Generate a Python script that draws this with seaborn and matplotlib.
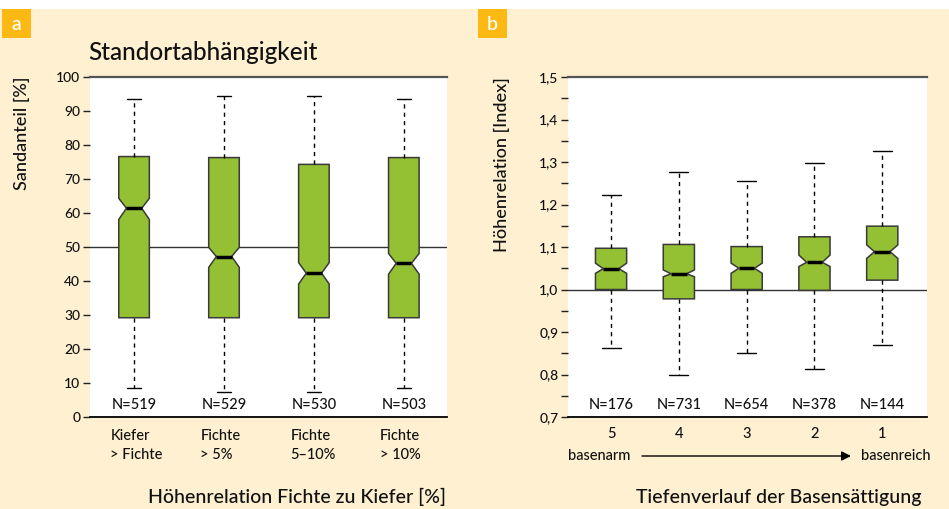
import matplotlib
matplotlib.use("Agg")
import matplotlib.pyplot as plt
from matplotlib.patches import Rectangle
from matplotlib.transforms import blended_transform_factory
import seaborn as sns

# %%
# Panel a: Sandanteil nach Höhenrelation Fichte zu Kiefer
a_labels = ["Kiefer\n> Fichte", "Fichte\n> 5%", "Fichte\n5\u201310%", "Fichte\n> 10%"]
a_n = [519, 529, 530, 503]
a_hi = [93.4, 94.4, 94.4, 93.4]
a_q3 = [76.6, 76.3, 74.3, 76.3]
a_med = [61.4, 47.2, 42.3, 45.2]
a_q1 = [29.2, 29.2, 29.2, 29.2]
a_lo = [8.4, 7.3, 7.3, 8.4]
a_cihi = [64.3, 49.9, 45.4, 48.1]
a_cilo = [58.1, 44.0, 39.1, 42.0]
a_yticks = [0, 10, 20, 30, 40, 50, 60, 70, 80, 90, 100]
a_yticklabels = ["0", "10", "20", "30", "40", "50", "60", "70", "80", "90", "100"]

# Panel b: Höhenrelation nach Basensättigung
b_labels = ["5", "4", "3", "2", "1"]
b_n = [176, 731, 654, 378, 144]
b_hi = [1.222, 1.277, 1.256, 1.297, 1.327]
b_q3 = [1.097, 1.106, 1.101, 1.124, 1.149]
b_med = [1.049, 1.037, 1.050, 1.064, 1.089]
b_q1 = [1.000, 0.978, 1.000, 0.998, 1.022]
b_lo = [0.862, 0.800, 0.851, 0.812, 0.869]
b_cihi = [1.062, 1.046, 1.062, 1.081, 1.105]
b_cilo = [1.038, 1.030, 1.038, 1.054, 1.073]
b_yticks = [0.7, 0.8, 0.9, 1.0, 1.1, 1.2, 1.3, 1.4, 1.5]
b_yticklabels = ["0,7", "0,8", "0,9", "1,0", "1,1", "1,2", "1,3", "1,4", "1,5"]
b_yminor = [0.75, 0.85, 0.95, 1.05, 1.15, 1.25, 1.35, 1.45]

# %%
CREAM = "#FEF0D0"
ORANGE = "#FDB913"
GREEN = "#94C133"
EDGE = "#3a3a3a"

sns.set_theme(style="ticks")
plt.rcParams["font.family"] = ["Lato", "DejaVu Sans"]
plt.rcParams["font.weight"] = "medium"
plt.rcParams["text.color"] = "#111111"

fig = plt.figure(figsize=(9.49, 5.09), dpi=100, facecolor=CREAM)
# white strip on top
fig.patches.append(Rectangle((0, 1 - 9 / 509), 1, 9 / 509, transform=fig.transFigure,
                             facecolor="white", edgecolor="none", zorder=0))

ax_a = fig.add_axes([90 / 949, 92 / 509, 357 / 949, 340 / 509])
ax_b = fig.add_axes([568 / 949, 92 / 509, 359 / 949, 340 / 509])


def make_stats(lo, q1, med, q3, hi, cilo, cihi):
    return [dict(whislo=l, q1=a, med=m, q3=b, whishi=h, cilo=c1, cihi=c2, fliers=[])
            for l, a, m, b, h, c1, c2 in zip(lo, q1, med, q3, hi, cilo, cihi)]


def draw_boxes(ax, stats, width, capw):
    ax.bxp(stats, positions=list(range(len(stats))), widths=width, patch_artist=True,
           shownotches=True, showfliers=False, capwidths=capw,
           boxprops=dict(facecolor=GREEN, edgecolor=EDGE, linewidth=1.1),
           whiskerprops=dict(color="black", linewidth=1, linestyle=(0, (3, 3))),
           capprops=dict(color="black", linewidth=1),
           medianprops=dict(color="black", linewidth=2.5, solid_capstyle="butt"),
           manage_ticks=False, zorder=2)


def style_axes(ax):
    ax.set_facecolor("white")
    for s in ["left", "right"]:
        ax.spines[s].set_visible(False)
    ax.spines["top"].set_color("#555555")
    ax.spines["top"].set_linewidth(1.6)
    ax.spines["bottom"].set_color("black")
    ax.spines["bottom"].set_linewidth(1.3)
    ax.tick_params(axis="y", which="both", length=5, width=1, color="#222222",
                   pad=2, labelsize=10, labelcolor="#111111")
    ax.tick_params(axis="x", length=0)


# ---- panel a
style_axes(ax_a)
draw_boxes(ax_a, make_stats(a_lo, a_q1, a_med, a_q3, a_hi, a_cilo, a_cihi), 0.34, 0.16)
ax_a.axhline(50, color="#333333", linewidth=1, zorder=1)
ax_a.set_xlim(-0.49, 3.48)
ax_a.set_ylim(0, 100)
ax_a.set_yticks(a_yticks, a_yticklabels)
ax_a.set_xticks([])
tr_a = blended_transform_factory(ax_a.transData, ax_a.transAxes)
for i, (lab, n) in enumerate(zip(a_labels, a_n)):
    ax_a.text(i, 0.034, f"N={n}", transform=tr_a, ha="center", va="center", fontsize=10.5)
    ax_a.annotate(lab, xy=(i, 0), xycoords=tr_a, xytext=(-17, -9),
                  textcoords="offset points", ha="left", va="top", fontsize=10.5,
                  linespacing=1.45, annotation_clip=False)

# ---- panel b
style_axes(ax_b)
draw_boxes(ax_b, make_stats(b_lo, b_q1, b_med, b_q3, b_hi, b_cilo, b_cihi), 0.46, 0.28)
ax_b.axhline(1.0, color="#333333", linewidth=1, zorder=1)
ax_b.set_xlim(-0.635, 4.66)
ax_b.set_ylim(0.7, 1.5)
ax_b.set_yticks(b_yticks, b_yticklabels)
ax_b.set_yticks(b_yminor, minor=True)
ax_b.set_xticks(range(len(b_labels)), b_labels)
ax_b.tick_params(axis="x", length=0, pad=7, labelsize=10.5, labelcolor="#111111")
tr_b = blended_transform_factory(ax_b.transData, ax_b.transAxes)
for i, n in enumerate(b_n):
    ax_b.text(i, 0.034, f"N={n}", transform=tr_b, ha="center", va="center", fontsize=10.5)

# arrow basenarm -> basenreich
fig.text(568 / 949, 1 - 456 / 509, "basenarm", ha="left", va="center", fontsize=10.5)
fig.text(930 / 949, 1 - 456 / 509, "basenreich", ha="right", va="center", fontsize=10.5)
ax_b.annotate("", xy=(851 / 949, 1 - 456 / 509), xytext=(642 / 949, 1 - 456 / 509),
              xycoords="figure fraction", textcoords="figure fraction",
              arrowprops=dict(arrowstyle="-|>", color="black", lw=1, mutation_scale=14,
                              shrinkA=0, shrinkB=0))

# ---- titles and axis labels
fig.text(88 / 949, 1 - 52 / 509, "Standortabhängigkeit", ha="left", va="center", fontsize=17.5)
fig.text(22 / 949, 1 - 77 / 509, "Sandanteil [%]", rotation=90, ha="center", va="top", fontsize=13)
fig.text(502 / 949, 1 - 77 / 509, "Höhenrelation [Index]", rotation=90, ha="center", va="top", fontsize=13)
fig.text(446 / 949, 1 - 497 / 509, "Höhenrelation Fichte zu Kiefer [%]", ha="right", va="center", fontsize=14)
fig.text(921 / 949, 1 - 497 / 509, "Tiefenverlauf der Basensättigung", ha="right", va="center", fontsize=14)

# panel letters
for x0, letter in [(2, "a"), (478, "b")]:
    fig.patches.append(Rectangle((x0 / 949, 1 - 38 / 509), 29 / 949, 29 / 509,
                                 transform=fig.transFigure, facecolor=ORANGE, edgecolor="none"))
    fig.text((x0 + 14.5) / 949, 1 - 24 / 509, letter, ha="center", va="center",
             fontsize=14, color="white")

plt.savefig("out.png", dpi=100, facecolor=fig.get_facecolor())
